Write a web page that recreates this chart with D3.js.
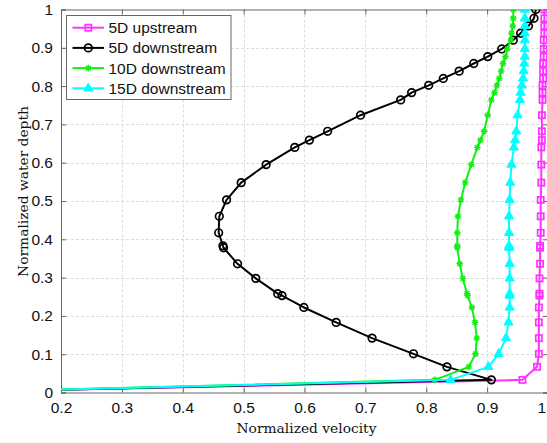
<!DOCTYPE html>
<html><head><meta charset="utf-8">
<script src="https://cdn.jsdelivr.net/npm/d3@7"></script>
<style>
html,body{margin:0;padding:0;background:#fff;}
svg{display:block;}
</style></head>
<body>
<svg id="chart" width="547" height="443"></svg>
<script>
// ---- data ----
const depth = [0, 0.033, 0.067, 0.101, 0.142, 0.183, 0.222, 0.253, 0.258, 0.298, 0.336, 0.378, 0.383, 0.417, 0.460, 0.503, 0.548, 0.595, 0.640, 0.659, 0.682, 0.724, 0.764, 0.783, 0.802, 0.820, 0.839, 0.859, 0.877, 0.897, 0.920, 0.938, 0.957, 0.977, 1.0];
const up5 = [0, 0.958, 0.982, 0.985, 0.985, 0.985, 0.985, 0.986, 0.986, 0.986, 0.987, 0.987, 0.987, 0.988, 0.988, 0.988, 0.989, 0.989, 0.989, 0.990, 0.990, 0.990, 0.991, 0.991, 0.991, 0.992, 0.992, 0.992, 0.993, 0.993, 0.993, 0.994, 0.994, 0.994, 0.994];
const down5 = [0, 0.907, 0.834, 0.779, 0.711, 0.652, 0.599, 0.563, 0.556, 0.520, 0.490, 0.467, 0.466, 0.459, 0.460, 0.472, 0.496, 0.537, 0.584, 0.608, 0.638, 0.692, 0.758, 0.776, 0.804, 0.828, 0.854, 0.878, 0.901, 0.924, 0.943, 0.955, 0.968, 0.977, 0.980];
const down10 = [0, 0.814, 0.870, 0.881, 0.883, 0.880, 0.875, 0.868, 0.867, 0.860, 0.855, 0.851, 0.851, 0.851, 0.852, 0.857, 0.864, 0.874, 0.884, 0.889, 0.895, 0.901, 0.907, 0.912, 0.916, 0.920, 0.923, 0.926, 0.930, 0.933, 0.939, 0.940, 0.942, 0.943, 0.943];
const down15 = [0, 0.840, 0.902, 0.919, 0.931, 0.935, 0.937, 0.937, 0.937, 0.937, 0.937, 0.936, 0.936, 0.936, 0.936, 0.937, 0.938, 0.940, 0.944, 0.946, 0.948, 0.950, 0.954, 0.955, 0.957, 0.959, 0.960, 0.961, 0.962, 0.962, 0.962, 0.962, 0.962, 0.962, 0.962];
const seriesNames = ["5D upstream", "5D downstream", "10D downstream", "15D downstream"];
const xTicks = [0.2, 0.3, 0.4, 0.5, 0.6, 0.7, 0.8, 0.9, 1];
const yTicks = [0, 0.1, 0.2, 0.3, 0.4, 0.5, 0.6, 0.7, 0.8, 0.9, 1];
const xTitle = "Normalized velocity";
const yTitle = "Normalized water depth";

// ---- styles ----
const colors = ["#ff33ff", "#000000", "#11f011", "#00ffff"];
const markers = ["square", "circle", "star", "triangle"];
const seriesVals = [up5, down5, down10, down15];

const svg = d3.select("#chart");
const L = 61, R = 548, T = 9.5, B = 392.5;
const x = d3.scaleLinear().domain([0.2, 1]).range([L, R]);
const y = d3.scaleLinear().domain([0, 1]).range([B, T]);

const sans = "'Liberation Sans', Arial, Helvetica, sans-serif";
const serif = "'DejaVu Serif', serif";

svg.append("defs").append("clipPath").attr("id", "clip")
  .append("rect").attr("x", L).attr("y", T).attr("width", R - L).attr("height", B - T);

// grid
const grid = svg.append("g");
grid.selectAll("line.gx").data(xTicks.filter(d => d > 0.2 && d < 1)).join("line")
  .attr("x1", d => Math.round(x(d)) + 0.5).attr("x2", d => Math.round(x(d)) + 0.5)
  .attr("y1", T).attr("y2", B)
  .attr("stroke", "#dcdcdc").attr("stroke-width", 1).attr("stroke-dasharray", "3,2");
grid.selectAll("line.gy").data(yTicks.filter(d => d > 0 && d < 1)).join("line")
  .attr("y1", d => Math.round(y(d)) + 0.5).attr("y2", d => Math.round(y(d)) + 0.5)
  .attr("x1", L).attr("x2", R)
  .attr("stroke", "#dcdcdc").attr("stroke-width", 1).attr("stroke-dasharray", "3,2");

// axes
const axColor = "#666";
const axB = d3.axisBottom(x).tickValues(xTicks).tickSize(-5).tickPadding(9).tickFormat(d3.format("~g"));
const axT = d3.axisTop(x).tickValues(xTicks).tickSize(-5).tickFormat("");
const axL = d3.axisLeft(y).tickValues(yTicks).tickSize(-5).tickPadding(8).tickFormat(d3.format("~g"));
const axR = d3.axisRight(y).tickValues(yTicks).tickSize(-5).tickFormat("");
function styleAx(g) {
  g.select(".domain").attr("stroke", axColor);
  g.selectAll(".tick line").attr("stroke", axColor);
  g.selectAll("text").attr("fill", "#111").style("font-family", sans).style("font-size", "15.5px");
}
const gB = svg.append("g").attr("transform", `translate(0,${B})`).call(axB).call(styleAx);
svg.append("g").attr("transform", `translate(0,${T})`).call(axT).call(styleAx);
svg.append("g").attr("transform", `translate(${L},0)`).call(axL).call(styleAx);
svg.append("g").attr("transform", `translate(${R},0)`).call(axR).call(styleAx);
// keep the last x tick label inside the picture
gB.selectAll(".tick").filter(d => d === 1).select("text").attr("text-anchor", "end").attr("dx", -2.5);

// series
const plot = svg.append("g").attr("clip-path", "url(#clip)");
const line = d3.line().x(d => x(d[0])).y(d => y(d[1]));

function drawMarker(g, type, color) {
  if (type === "square") {
    g.append("rect").attr("x", -3.1).attr("y", -3.1).attr("width", 6.2).attr("height", 6.2)
      .attr("fill", "none").attr("stroke", color).attr("stroke-width", 1.7);
  } else if (type === "circle") {
    g.append("circle").attr("r", 3.8).attr("fill", "none").attr("stroke", color).attr("stroke-width", 1.7);
  } else if (type === "star") {
    const s = 3.3, d = 2.4;
    g.append("path").attr("d", `M${-s},0H${s}M0,${-s}V${s}M${-d},${-d}L${d},${d}M${-d},${d}L${d},${-d}`)
      .attr("stroke", color).attr("stroke-width", 1.4).attr("fill", "none");
  } else if (type === "triangle") {
    g.append("path").attr("d", d3.symbol(d3.symbolTriangle, 36)())
      .attr("fill", color).attr("stroke", color).attr("stroke-width", 1);
  }
}

seriesVals.forEach((vals, i) => {
  const pts = vals.map((v, j) => [v, depth[j]]);
  const g = plot.append("g");
  g.append("path").datum(pts).attr("d", line).attr("fill", "none")
    .attr("stroke", colors[i]).attr("stroke-width", 2).attr("stroke-linejoin", "round");
  g.selectAll("g.m").data(pts).join("g")
    .attr("transform", d => `translate(${x(d[0])},${y(d[1])})`)
    .each(function () { drawMarker(d3.select(this), markers[i], colors[i]); });
});

// legend
const lg = svg.append("g");
lg.append("rect").attr("x", 66.5).attr("y", 15.5).attr("width", 164.5).attr("height", 84)
  .attr("fill", "#fff").attr("stroke", "#666").attr("stroke-width", 1);
seriesNames.forEach((name, i) => {
  const yy = 27.7 + i * 20.2;
  lg.append("line").attr("x1", 72.5).attr("x2", 104).attr("y1", yy).attr("y2", yy)
    .attr("stroke", colors[i]).attr("stroke-width", 2);
  const mg = lg.append("g").attr("transform", `translate(88.3,${yy})`);
  drawMarker(mg, markers[i], colors[i]);
  lg.append("text").attr("x", 108.5).attr("y", yy).attr("dy", "0.36em")
    .style("font-family", sans).style("font-size", "15.5px").attr("fill", "#111").text(name);
});

// titles
svg.append("text").attr("x", 306.5).attr("y", 433).attr("text-anchor", "middle")
  .style("font-family", serif).style("font-size", "13.8px").attr("fill", "#111").text(xTitle);
svg.append("text").attr("transform", "translate(28,191.5) rotate(-90)").attr("text-anchor", "middle")
  .style("font-family", serif).style("font-size", "13.8px").attr("fill", "#111").text(yTitle);
</script>
</body></html>
